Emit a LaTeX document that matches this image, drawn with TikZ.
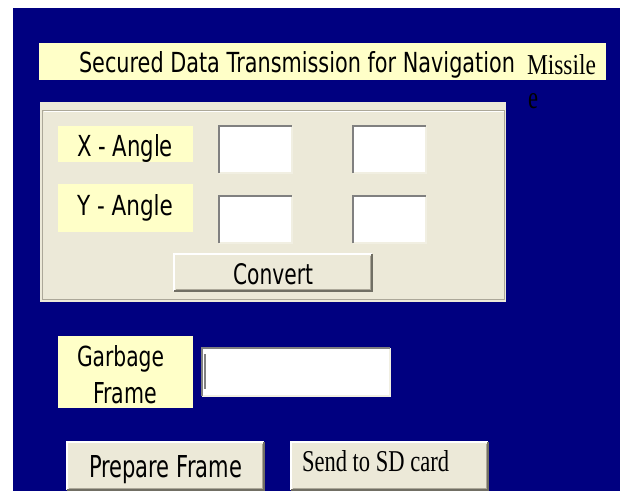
\documentclass[tikz,border=0pt]{standalone}
\usepackage{fontspec}
\usepackage{graphicx}
\setmainfont{Liberation Serif}
\newfontfamily\uifont{DejaVu Sans}
\newfontfamily\capfont{Liberation Serif}

\definecolor{deskblue}{HTML}{000080}
\definecolor{tipyellow}{HTML}{FFFFC8}
\definecolor{facegray}{HTML}{ECE9D8}
\definecolor{shadowgray}{HTML}{ACA899}
\definecolor{darkshadow}{HTML}{716F64}
\definecolor{edgegray}{HTML}{808080}
\definecolor{lightedge}{HTML}{F1EFE2}

% text stretched to a given width and height above the baseline (in px = pt)
\newcommand{\fitto}[3]{\resizebox{#1pt}{#2pt}{#3}}

\tikzset{
  box/.style={anchor=north west, inner sep=0pt, outer sep=0pt, draw=none},
  yellowlabel/.style={box, fill=tipyellow},
  field/.style={box, fill=white},
  button/.style={box, fill=facegray},
  caption/.style={anchor=base west, inner sep=0pt, outer sep=0pt, text=black},
}

\begin{document}
\begin{tikzpicture}[x=1pt, y=-1pt]
  % canvas and desktop background
  \useasboundingbox (0,0) rectangle (621,497);
  \fill[white] (0,0) rectangle (621,497);
  \fill[deskblue] (13,8) rectangle (620,491);

  % title strip
  \node[yellowlabel, minimum width=567pt, minimum height=37pt] (title) at (39,43) {};
  \node[caption] (titletxt) at (79,73) {\fitto{436}{21}{\uifont Secured Data Transmission for Navigation}};
  \node[caption] (missile) at (527,75) {\fitto{69}{20}{\capfont Missile}};
  \node[caption, text=black] (stray) at (528,109) {\fitto{10}{15}{\capfont e}};

  % group panel
  \node[box, fill=facegray, minimum width=466pt, minimum height=200pt] (panel) at (40,102) {};
  \draw[shadowgray, line width=1pt] (42.5,111) rectangle (504.5,299.5);
  \draw[white, line width=1pt] (43.5,112) -- (503.5,112);

  % angle labels
  \node[yellowlabel, minimum width=135pt, minimum height=36pt] (xlab) at (58,126) {};
  \node[caption] (xtxt) at (77,157) {\fitto{96}{22}{\uifont X - Angle}};
  \node[yellowlabel, minimum width=135pt, minimum height=48pt] (ylab) at (58,184) {};
  \node[caption] (ytxt) at (77,215) {\fitto{96}{21}{\uifont Y - Angle}};

  % input fields
  \foreach \n/\x/\y/\w/\h in {fx1/219/126/73/47, fx2/353/126/73/47,
                              fy1/219/196/73/47, fy2/353/196/73/47,
                              fg/202/348/188/48} {
    \node[field, minimum width=\w pt, minimum height=\h pt] (\n) at (\x,\y) {};
    \draw[lightedge, line width=1.2pt] (\n.south west) -- (\n.south east) -- (\n.north east);
    \draw[edgegray, line width=1.6pt] (\n.south west) -- (\n.north west) -- (\n.north east);
  }
  % text cursor in the frame field
  \coordinate (cur1) at (205,354);
  \coordinate (cur2) at (205,389);
  \draw[edgegray, line width=1.6pt] (cur1) -- (cur2);

  % convert button
  \foreach \n/\x/\y/\w/\h in {convert/174/254/198/37, prepare/67/442/197/48, send/291/442/197/48} {
    \node[button, minimum width=\w pt, minimum height=\h pt] (\n) at (\x,\y) {};
    \draw[white, line width=1.2pt] (\n.south west) -- (\n.north west) -- (\n.north east);
    \draw[shadowgray, line width=1pt] ([shift={(1.5,-1.5)}]\n.south west) -- ([shift={(-1.5,-1.5)}]\n.south east) -- ([shift={(-1.5,1.5)}]\n.north east);
    \draw[darkshadow, line width=1.4pt] (\n.south west) -- (\n.south east) -- (\n.north east);
  }
  \node[caption] (converttxt) at (233,284) {\fitto{80}{21}{\uifont Convert}};

  % garbage frame label
  \node[yellowlabel, minimum width=135pt, minimum height=72pt] (glab) at (58,336) {};
  \node[caption] (gtxt1) at (77,366) {\fitto{87}{21}{\uifont Garbage}};
  \node[caption] (gtxt2) at (93,403) {\fitto{64}{21}{\uifont Frame}};

  % bottom buttons captions
  \node[caption] (preparetxt) at (89,477) {\fitto{153}{22}{\uifont Prepare Frame}};
  \node[caption] (sendtxt) at (302,471) {\fitto{147}{21}{\capfont Send to SD card}};
\end{tikzpicture}
\end{document}
